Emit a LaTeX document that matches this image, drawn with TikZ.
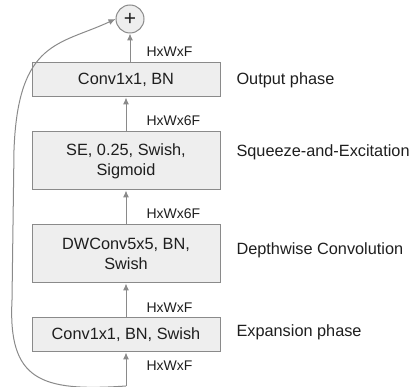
\documentclass[tikz,border=0pt]{standalone}
\usepackage{fontspec}
\setmainfont{Liberation Sans}
\usetikzlibrary{arrows.meta}

\definecolor{boxfill}{HTML}{EEEEEE}
\definecolor{boxline}{HTML}{8A8A8A}
\definecolor{txt}{HTML}{1E1E1E}

\tikzset{
	layer/.style={draw=boxline, fill=boxfill, line width=1pt, minimum width=188pt,
		align=center, inner sep=0pt, text=txt, font=\fontsize{16.3}{20}\selectfont},
	dims/.style={anchor=base west, text=txt, font=\fontsize{14}{16}\selectfont},
	phase/.style={anchor=base west, text=txt, font=\fontsize{16.3}{20}\selectfont},
	flow/.style={draw=boxline, line width=1pt, -{Latex[length=7pt,width=6pt]}},
}

\begin{document}
\begin{tikzpicture}[x=1pt, y=-1pt]
		\useasboundingbox (0,0) rectangle (413,387);
		% blocks
		\node[layer, minimum height=34pt] (out) at (126,80) {Conv1x1, BN};
		\node[layer, minimum height=58pt] (se) at (126,161) {SE, 0.25, Swish,\\Sigmoid};
		\node[layer, minimum height=58pt] (dw) at (126,254) {DWConv5x5, BN,\\Swish};
		\node[layer, minimum height=34pt] (exp) at (126,335) {Conv1x1, BN, Swish};
		\node[circle, draw=boxline, fill=boxfill, line width=1pt, minimum size=28pt,
			inner sep=0pt, text=txt, font=\fontsize{21}{21}\selectfont] (plus) at (130,19) {+};
		\coordinate (in) at (126,386);
		% main path
		\draw[flow] (in) -- (exp);
		\draw[flow] (exp) -- (dw);
		\draw[flow] (dw) -- (se);
		\draw[flow] (se) -- (out);
		\draw[flow] ([xshift=4pt]out.north) -- (plus);
		% skip connection
		\draw[flow] (in) .. controls (40,392) and (8,380) .. (12,300)
			-- (14,150) .. controls (18,40) and (60,45) .. (plus.west);
		% tensor sizes
		\node[dims] (d0) at (143,371) {HxWxF};
		\node[dims] (d1) at (143,313) {HxWxF};
		\node[dims] (d2) at (143,219) {HxWx6F};
		\node[dims] (d3) at (143,126) {HxWx6F};
		\node[dims] (d4) at (143,57) {HxWxF};
		% phases
		\node[phase] (p1) at (233,85) {Output phase};
		\node[phase] (p2) at (233,157) {Squeeze-and-Excitation};
		\node[phase] (p3) at (233,255) {Depthwise Convolution};
		\node[phase] (p4) at (233,337) {Expansion phase};
	\end{tikzpicture}
\end{document}
